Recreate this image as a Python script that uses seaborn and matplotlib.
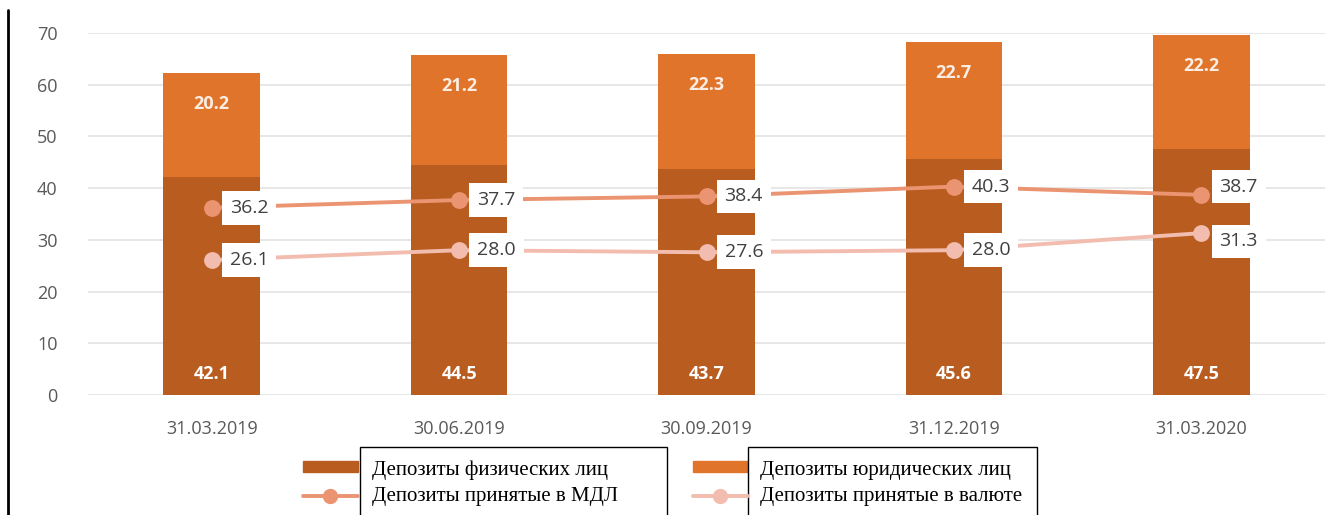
import numpy as np
import pandas as pd
import matplotlib
matplotlib.use("Agg")
import matplotlib.pyplot as plt
import seaborn as sns
from matplotlib.patches import Rectangle
from matplotlib.lines import Line2D

# data (bn MDL)
dates = ["31.03.2019", "30.06.2019", "30.09.2019", "31.12.2019", "31.03.2020"]
individuals = [42.1, 44.5, 43.7, 45.6, 47.5]
legal_entities = [20.2, 21.2, 22.3, 22.7, 22.2]
deposits_mdl = [36.2, 37.7, 38.4, 40.3, 38.7]
deposits_fx = [26.1, 28.0, 27.6, 28.0, 31.3]

legend_labels = ["Депозиты физических лиц", "Депозиты принятые в МДЛ",
                 "Депозиты юридических лиц", "Депозиты принятые в валюте"]

c_ind = "#B95C20"
c_leg = "#E0742A"
c_mdl = "#EA9472"
c_fx = "#F2BDAE"

sns.set_theme(style="whitegrid")
plt.rcParams["font.family"] = ["Open Sans", "DejaVu Sans"]

df = pd.DataFrame({"date": dates, "ind": individuals, "leg": legal_entities,
                   "mdl": deposits_mdl, "fx": deposits_fx})
df["total"] = df["ind"] + df["leg"]

fig = plt.figure(figsize=(13.3, 5.15), dpi=100)
ax = fig.add_axes([88 / 1330, 1 - 395 / 515, 1237 / 1330, 362 / 515])

# stacked bars: total in light orange, individuals on top in dark
sns.barplot(data=df, x="date", y="total", color=c_leg, saturation=1,
            width=0.39, linewidth=0, ax=ax, zorder=2)
sns.barplot(data=df, x="date", y="ind", color=c_ind, saturation=1,
            width=0.39, linewidth=0, ax=ax, zorder=2)

sns.pointplot(data=df, x="date", y="mdl", color=c_mdl, markers="o",
              markersize=10, linewidth=2.8, ax=ax, zorder=3)
sns.pointplot(data=df, x="date", y="fx", color=c_fx, markers="o",
              markersize=10, linewidth=2.8, ax=ax, zorder=3)

# bar labels
for i, row in df.iterrows():
    ax.text(i, 4.0, f"{row['ind']:.1f}", ha="center", va="center",
            color="white", fontsize=13, fontweight="bold", zorder=5)
    ax.text(i, row["total"] - 6.0, f"{row['leg']:.1f}", ha="center",
            va="center", color="#FBEDE3", fontsize=13, fontweight="bold", zorder=5)

# line labels in white boxes
mdl_dy = [0, 0, 0, 0, 6]
fx_dy = [0, 0, 0, 0, -6]
for i, row in df.iterrows():
    for val, dy in ((row["mdl"], mdl_dy[i]), (row["fx"], fx_dy[i])):
        ax.annotate(f"{val:.1f}", xy=(i, val), xytext=(13, dy),
                    textcoords="offset points", ha="left", va="center",
                    fontsize=14, color="#404040", zorder=6,
                    bbox=dict(boxstyle="square,pad=0.4", fc="white", ec="none"))

ax.set_xlim(-0.5, 4.5)
ax.set_ylim(0, 70)
ax.set_yticks(range(0, 71, 10))
ax.set_xlabel("")
ax.set_ylabel("")
ax.grid(axis="y", color="#E3E3E3", linewidth=1.2)
ax.grid(axis="x", visible=False)
ax.set_axisbelow(True)
for s in ax.spines.values():
    s.set_visible(False)
ax.tick_params(axis="both", length=0, labelsize=13, colors="#595959")
ax.tick_params(axis="y", pad=22)
ax.tick_params(axis="x", pad=18)

# left black border line
fig.add_artist(Line2D([8 / 1330, 8 / 1330], [0, 1 - 10 / 515],
                      color="black", linewidth=2, transform=fig.transFigure))

# legend: handles plus boxed labels
W, H = 1330, 515
def fx_(x):
    return x / W
def fy_(y):
    return 1 - y / H

for x0, bar_c, line_c in ((303, c_ind, c_mdl), (693, c_leg, c_fx)):
    fig.add_artist(Rectangle((fx_(x0), fy_(472)), 55 / W, 11 / H,
                             color=bar_c, transform=fig.transFigure))
    fig.add_artist(Line2D([fx_(x0), fx_(x0 + 55)], [fy_(496), fy_(496)],
                          color=line_c, linewidth=2.8, transform=fig.transFigure))
    fig.add_artist(Line2D([fx_(x0 + 27)], [fy_(496)], marker="o", markersize=10,
                          color=line_c, transform=fig.transFigure))

for x0, x1, l1, l2 in ((360, 667, legend_labels[0], legend_labels[1]),
                       (748, 1037, legend_labels[2], legend_labels[3])):
    fig.add_artist(Rectangle((fx_(x0), fy_(530)), (x1 - x0) / W, 83 / H,
                             facecolor="white", edgecolor="black", linewidth=1,
                             transform=fig.transFigure, clip_on=False))
    fig.text(fx_(x0 + 12), fy_(470), l1, ha="left", va="center",
             fontsize=15, family=["Liberation Serif", "DejaVu Serif"], color="black")
    fig.text(fx_(x0 + 12), fy_(497), l2, ha="left", va="center",
             fontsize=15, family=["Liberation Serif", "DejaVu Serif"], color="black")

fig.savefig("out.png", dpi=100)
